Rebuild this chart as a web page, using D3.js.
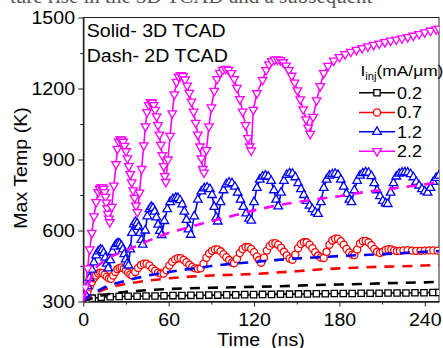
<!DOCTYPE html>
<html><head><meta charset="utf-8">
<script src="https://cdn.jsdelivr.net/npm/d3@7"></script>
<style>html,body{margin:0;padding:0;background:#fff;}svg{display:block;}</style>
</head><body>
<svg id="chart" width="443" height="348"></svg>
<script>
// ---------------- data (time ns, max temp K) ----------------
const xTicks = [0, 60, 120, 180, 240];
const yTicks = [300, 600, 900, 1200, 1500];
const legendLabels = ["0.2", "0.7", "1.2", "2.2"];
const seriesColors = ["#000000", "#ff0000", "#0000ff", "#ff00ff"];

// 3D TCAD (solid, markers)
const solid02 = [[0,300],[2,305],[4,310],[6.3,314],[12.6,318],[18.9,320],[25.2,321],[31.5,322],[37.8,322],[44.1,323],[50.4,323],[56.7,324],[63,325],[69.3,325],[75.6,326],[81.9,326],[88.2,327],[94.5,327],[100.8,328],[107.1,328],[113.4,329],[119.7,329],[126,330],[132.3,330],[138.6,331],[144.9,331],[151.2,332],[157.5,332],[163.8,333],[170.1,333],[176.4,334],[182.7,334],[189,334],[195.3,335],[201.6,335],[207.9,335],[214.2,336],[220.5,336],[226.8,336],[233.1,337],[239.4,337],[245.7,338],[250,338]];

const solid07 = [[0,300],[1.5,318],[3,340],[4.5,362],[6,382],[7.5,398],[9,410],[10.5,418],[12,422],[13.5,420],[15,413],[16.5,405],[18,398],[19.5,396],
[21,410],[22.5,425],[24,436],[25.5,442],[27,444],[28.5,440],[30,432],[31.5,422],[33,414],[34.5,410],
[36.5,425],[38.5,442],[40.5,454],[42.5,460],[44.5,460],[46.5,452],[48.5,440],[50.5,430],[52.5,422],[54.5,418],[56.5,418],
[58.5,432],[60.5,452],[62.5,468],[64.5,478],[66.5,483],[68.5,483],[70.5,476],[72.5,466],[74.5,455],[76.5,446],[78.5,440],[80.5,438],[82.5,440],
[84.5,460],[86.5,485],[88.5,503],[90.5,514],[92.5,520],[94.5,520],[96.5,512],[98.5,500],[100.5,487],[102.5,475],[104.5,465],[106,462],
[108,480],[110,505],[112,522],[114,530],[116,530],[118,522],[120,508],[122,490],[123.5,475],[125,464],
[127,485],[129,515],[131,535],[133,545],[135,546],[137,540],[139,527],[141,510],[143,495],[145,482],[147,476],
[149,498],[151,525],[153,543],[155,550],[157,550],[159,540],[161,525],[163,508],[165,494],[167,486],[169,484],
[171,510],[173,540],[175,558],[177,565],[179,565],[181,555],[183,540],[185,522],[187,507],[189,498],[190.5,496],
[192.5,520],[194.5,545],[196.5,555],[198.5,556],[200.5,550],[202.5,538],[204.5,522],[206.5,510],[208.5,505],
[210.5,510],[212.5,518],[214.5,521],[216.5,520],[218.5,516],[220.5,513],[222.5,514],[225,516],[228,517],[231,515],[234,514],[237,514],[240,515],[243,516],[246,516],[249,515]];

const solid12 = [[0,300],[1.5,330],[3,365],[4.5,400],[6,435],[7.5,465],[9,495],[10.5,512],[12,520],[13.2,517],[14.3,505],[15.4,485],[16.5,460],[17.5,440],
[19,475],[20.5,510],[22,532],[23.2,542],[24.4,546],[25.6,544],[26.8,535],[27.8,520],[28.8,500],[29.8,478],[30.8,460],[31.8,452],
[33,520],[34.2,590],[35.4,626],[36.6,636],[37.8,630],[38.8,615],[39.8,590],[40.8,560],[41.8,540],
[43.5,600],[45,660],[46.5,690],[47.8,700],[49,695],[50.2,680],[51.4,655],[52.6,625],[53.8,598],[55,580],
[57,640],[59,690],[61,720],[63,733],[65,738],[66.5,737],[68,728],[69.5,710],[71,680],[72.5,645],[74,605],[75.5,582],
[78,660],[80.5,730],[83,765],[85,778],[87,782],[89,775],[90.5,750],[92,700],[93.5,655],[94.5,638],
[96.5,720],[98.5,770],[100.5,795],[102.5,803],[104.5,800],[106.5,785],[108.5,760],[110.5,730],[112.5,700],[114.5,672],[116.5,650],[118,642],
[120,720],[122,780],[124,815],[126,828],[128,832],[130,828],[132,810],[134,770],[135.5,730],[137,702],
[139,760],[141,810],[143,835],[145,842],[147,840],[149,825],[151,800],[153,775],[155,750],[157,725],[159,705],[161,690],[163,677],[165,670],
[167,720],[169,780],[171,815],[173,832],[175,838],[177,840],[179,835],[181,815],[183,785],[185,755],[187,730],[188.5,720],
[190.5,770],[192.5,810],[194.5,832],[196.5,842],[198.5,846],[200.5,844],[202.5,830],[204.5,800],[206.5,770],[208.5,745],[210.5,725],[212.5,715],[214,712],
[216,760],[218,800],[220,828],[222,840],[224,845],[226,846],[228,845],[230,838],[232,825],[234,805],[236,790],[238,775],[240,765],[242,760],
[244,780],[246,805],[248,822],[250,832]];

const solid22 = [[0,300],[1.5,360],[3,440],[4.5,520],[6,590],[7.5,660],[9,720],[10.5,762],[11.5,776],[12.5,782],[13.5,782],[14.3,776],[15,762],[15.6,742],[16.2,718],[16.8,694],[17.4,670],[18,650],[18.6,635],
[20,700],[21.5,790],[23,880],[24,945],[25,975],[26,985],[27,984],[28,975],[29,958],[30,935],[31,905],[32,872],[33,838],[34,803],[35,770],[36,738],[37,705],[38,678],
[39.5,760],[41,860],[42.5,960],[43.7,1040],[44.8,1100],[46,1130],[47.2,1142],[48.4,1141],[49.5,1130],[50.5,1110],[51.5,1082],[52.5,1045],[53.5,1005],[54.5,962],[55.5,918],[56.5,872],[57.3,830],[58,805],
[59.5,900],[61,1000],[62.5,1095],[64,1175],[65.5,1228],[67,1250],[68.5,1256],[70,1252],[71.5,1238],[73,1212],[74.5,1182],[76,1145],[77.5,1102],[79,1055],[80.5,1005],[82,955],[83,905],[84,860],[84.8,845],
[86.5,940],[88.3,1040],[90,1120],[92,1190],[94,1240],[96,1266],[98,1279],[100,1283],[102,1279],[104,1265],[106,1240],[108,1203],[110,1155],[112,1102],[114,1045],[115.8,990],[117,955],[118,938],
[119.5,1110],[122,1180],[126,1236],[128.5,1278],[130.5,1302],[132.5,1316],[134.5,1322],[136.5,1323],[138.5,1320],[140.5,1311],[142.5,1297],[144.5,1278],[146.5,1254],[148.5,1225],[150.5,1192],[152.5,1154],[154.5,1112],[156.5,1070],[158,1035],[159.5,1008],
[161.5,1080],[164,1150],[166.5,1210],[169,1265],[172,1296],[176,1318],[180,1333],[184,1345],[188,1355],[192,1363],[196,1371],[200,1378],[204,1384],[208,1390],[212,1396],[216,1402],[220,1407],[224,1412],[228,1417],[232,1423],[236,1430],[240,1437],[244,1444],[248,1450],[250,1453]];

// 2D TCAD (dashed)
const dash02 = [[0,300],[5,312],[10,322],[20,334],[30,341],[45,348],[60,353],[75,356],[90,358],[105,360],[120,362],[135,364],[150,367],[165,370],[180,372],[195,374],[210,377],[225,379],[240,381],[250,383]];
const dash07 = [[0,300],[3,315],[6,328],[10,340],[15,352],[20,362],[30,375],[45,388],[60,398],[75,405],[90,410],[105,413],[120,416],[135,422],[150,428],[165,435],[180,440],[195,444],[210,447],[225,449],[240,452],[250,455]];
const dash12 = [[0,300],[3,318],[6,332],[10,345],[15,360],[20,372],[30,388],[45,410],[60,425],[75,438],[90,450],[105,460],[120,467],[135,475],[150,482],[165,487],[180,492],[195,496],[210,500],[225,505],[240,510],[250,513]];
const dash22 = [[0,300],[3,360],[6,410],[10,450],[15,475],[20,492],[30,515],[45,555],[60,590],[75,615],[90,640],[105,662],[120,685],[135,705],[150,720],[165,733],[180,745],[195,760],[210,771],[225,783],[240,795],[250,805]];

// ---------------- drawing ----------------
const svg = d3.select("#chart");
const FONT = "'Liberation Sans', Arial, sans-serif";
const SX = 1.12; // horizontal stretch of the original lettering

const L = 83.3, R = 439, T = 17.5, B = 301.5;
const x = d3.scaleLinear().domain([0, 250]).range([L, R]);
const y = d3.scaleLinear().domain([300, 1500]).range([B, T]);

// cut-off caption text at very top (as in the source image)
svg.append("text").attr("x", 10).attr("y", 3)
  .attr("font-family", "'Liberation Serif', serif").attr("font-size", 21).attr("fill", "#555")
  .text("ture rise in the 3D TCAD and a subsequent");

function label(px, py, str, size, anchor, rot) {
  const g = svg.append("g").attr("transform", `translate(${px},${py}) rotate(${rot||0}) scale(${SX},1)`);
  return g.append("text").attr("font-family", FONT).attr("font-size", size)
    .attr("text-anchor", anchor || "start").attr("fill", "#000").text(str);
}

const clip = svg.append("defs").append("clipPath").attr("id", "clip");
clip.append("rect").attr("x", L).attr("y", T).attr("width", R - L).attr("height", B - T);

// axes
const axisColor = "#222";
const fmt = d3.format("d");
const yAxis = svg.append("g").attr("transform", `translate(${L},0)`)
  .call(d3.axisLeft(y).tickValues(yTicks).tickFormat(fmt).tickSize(5).tickPadding(2.4).tickSizeOuter(0));
const yMinor = svg.append("g").attr("transform", `translate(${L},0)`)
  .call(d3.axisLeft(y).tickValues([450, 750, 1050, 1350]).tickSize(3).tickFormat("").tickSizeOuter(0));
const xAxis = svg.append("g").attr("transform", `translate(0,${B})`)
  .call(d3.axisBottom(x).tickValues(xTicks).tickFormat(fmt).tickSize(5).tickPadding(7.5).tickSizeOuter(0));
const xMinor = svg.append("g").attr("transform", `translate(0,${B})`)
  .call(d3.axisBottom(x).tickValues([30, 90, 150, 210]).tickSize(3).tickFormat("").tickSizeOuter(0));
[yAxis, yMinor, xAxis, xMinor].forEach(a => {
  a.selectAll("path").attr("stroke", axisColor).attr("stroke-width", 1);
  a.selectAll("line").attr("stroke", axisColor).attr("stroke-width", 1);
});
[yAxis, xAxis].forEach(a => {
  a.selectAll("text").attr("font-family", FONT).attr("font-size", 17.5).attr("fill", "#000")
    .attr("transform", `scale(${SX},1)`);
});

// frame
svg.append("rect").attr("x", L).attr("y", T).attr("width", R - L).attr("height", B - T)
  .attr("fill", "none").attr("stroke", axisColor).attr("stroke-width", 1);

// axis titles
label(27, 168, "Max Temp (K)", 17.5, "middle", -90);
label(261, 345.5, "Time\u00a0\u00a0(ns)", 17.5, "middle");

// series
const plot = svg.append("g").attr("clip-path", "url(#clip)");
const line = d3.line().x(d => x(d[0])).y(d => y(d[1]));

const solids = [solid02, solid07, solid12, solid22];
const dashes = [dash02, dash07, dash12, dash22];
const symTypes = [d3.symbolSquare, d3.symbolCircle, d3.symbolTriangle, d3.symbolTriangle];
const symSizes = [40, 40, 32, 32];
const symRot = [0, 0, 0, 180];

function marker(g, i, px, py) {
  g.append("path").attr("d", d3.symbol().type(symTypes[i]).size(symSizes[i])())
    .attr("transform", `translate(${px},${py}) rotate(${symRot[i]})`)
    .attr("fill", "#fff").attr("stroke", seriesColors[i]).attr("stroke-width", 1.3);
}

solids.forEach((data, i) => {
  plot.append("path").datum(data).attr("d", line).attr("fill", "none")
    .attr("stroke", seriesColors[i]).attr("stroke-width", 1.6);
  const mg = plot.append("g");
  data.slice(1).forEach(d => marker(mg, i, x(d[0]), y(d[1])));
});
dashes.forEach((data, i) => {
  plot.append("path").datum(data).attr("d", line).attr("fill", "none")
    .attr("stroke", seriesColors[i]).attr("stroke-width", 2.6).attr("stroke-dasharray", "10,8");
});

// annotations
label(86.7, 37.3, "Solid- 3D TCAD", 17.5, "start");
label(86.7, 61.7, "Dash- 2D TCAD", 17.5, "start");

// legend
const lt = label(360.5, 76, "I", 15.5, "start");
lt.append("tspan").attr("font-size", 10).attr("dy", 4).text("inj");
lt.append("tspan").attr("dy", -4).text("(mA/\u03bcm)");
const legY = [92.7, 112.5, 131.8, 151.2];
const lg = svg.append("g");
legendLabels.forEach((lab, i) => {
  lg.append("line").attr("x1", 359).attr("x2", 395).attr("y1", legY[i]).attr("y2", legY[i])
    .attr("stroke", seriesColors[i]).attr("stroke-width", 1.6);
  marker(lg, i, 377, legY[i]);
  label(397, legY[i] + 5.8, lab, 16, "start");
});
</script>
</body></html>
